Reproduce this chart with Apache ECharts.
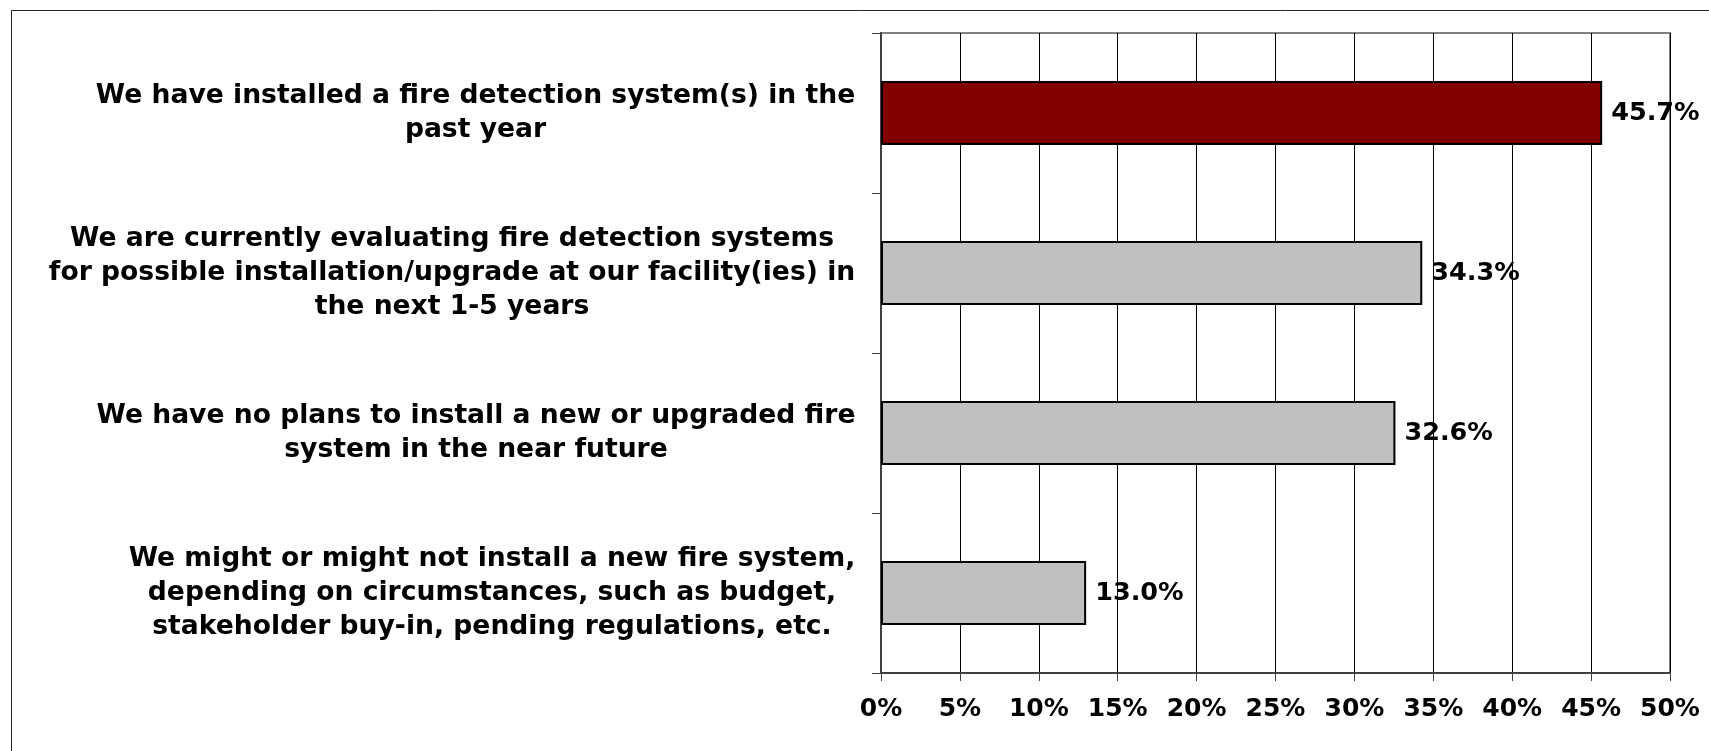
<!DOCTYPE html>
<html>
<head>
<meta charset="utf-8">
<script src="https://cdn.jsdelivr.net/npm/echarts@6/dist/echarts.min.js"></script>
<style>html,body{margin:0;padding:0;background:#fff;}#chart{width:1709px;height:751px;}</style>
</head>
<body>
<div id="chart"></div>
<script>
var categories = [
  "We have installed a fire detection system(s) in the\npast year",
  "We are currently evaluating fire detection systems\nfor possible installation/upgrade at our facility(ies) in\nthe next 1-5 years",
  "We have no plans to install a new or upgraded fire\nsystem in the near future",
  "We might or might not install a new fire system,\ndepending on circumstances, such as budget,\nstakeholder buy-in, pending regulations, etc."
];
var values = [45.7, 34.3, 32.6, 13.0];
var barColors = ["#800000", "#C0C0C0", "#C0C0C0", "#C0C0C0"];
var xTicks = {min: 0, max: 50, interval: 5};

var FONT = "DejaVu Sans";
var CAT_FONT_SIZE = 26.6;
var ctx = document.createElement('canvas').getContext('2d');
ctx.font = 'bold ' + CAT_FONT_SIZE + 'px "' + FONT + '"';
function blockWidth(s) {
  return Math.max.apply(null, s.split('\n').map(function (l) { return ctx.measureText(l).width; }));
}
var rich = {};
categories.forEach(function (c, i) {
  rich['c' + i] = {width: Math.ceil(blockWidth(c)) + 1, align: 'center', fontFamily: FONT, fontWeight: 'bold',
    fontSize: CAT_FONT_SIZE, lineHeight: 34, color: '#000'};
});

var chart = echarts.init(document.getElementById('chart'), null, {renderer: 'canvas'});
chart.setOption({
  animation: false,
  backgroundColor: '#fff',
  graphic: [{
    type: 'rect', shape: {x: 11.5, y: 10.5, width: 1800, height: 900},
    style: {fill: 'none', stroke: '#222', lineWidth: 1}, z: -10
  }],
  grid: {left: 881, top: 33, right: 39, bottom: 78, show: true, borderColor: '#808080', borderWidth: 2, backgroundColor: 'transparent'},
  xAxis: {
    type: 'value', min: xTicks.min, max: xTicks.max, interval: xTicks.interval,
    axisLine: {show: true, lineStyle: {color: '#404040', width: 2}},
    axisTick: {show: true, length: 8, lineStyle: {color: '#404040', width: 1}},
    splitLine: {show: true, lineStyle: {color: '#000', width: 1}},
    axisLabel: {formatter: '{value}%', fontFamily: FONT, fontWeight: 'bold', fontSize: 25, color: '#000', margin: 24}
  },
  yAxis: {
    type: 'category', data: categories, inverse: true,
    axisLine: {show: true, lineStyle: {color: '#404040', width: 2}},
    axisTick: {show: true, length: 9, inside: false, lineStyle: {color: '#404040', width: 1}},
    axisLabel: {fontFamily: FONT, fontWeight: 'bold', fontSize: CAT_FONT_SIZE, color: '#000', lineHeight: 34, align: 'right', margin: 25,
      rich: rich,
      formatter: function (v, i) {
        return v.split('\n').map(function (l) { return '{c' + i + '|' + l + '}'; }).join('\n');
      }}
  },
  series: [{
    type: 'bar',
    data: values.map(function (v, i) { return {value: v, itemStyle: {color: barColors[i]}}; }),
    barCategoryGap: '60%',
    itemStyle: {borderColor: '#000', borderWidth: 2},
    label: {show: true, position: 'right', distance: 9, formatter: function (p) { return p.value.toFixed(1) + '%'; },
      fontFamily: FONT, fontWeight: 'bold', fontSize: 25.5, color: '#000'}
  }]
});
</script>
</body>
</html>
